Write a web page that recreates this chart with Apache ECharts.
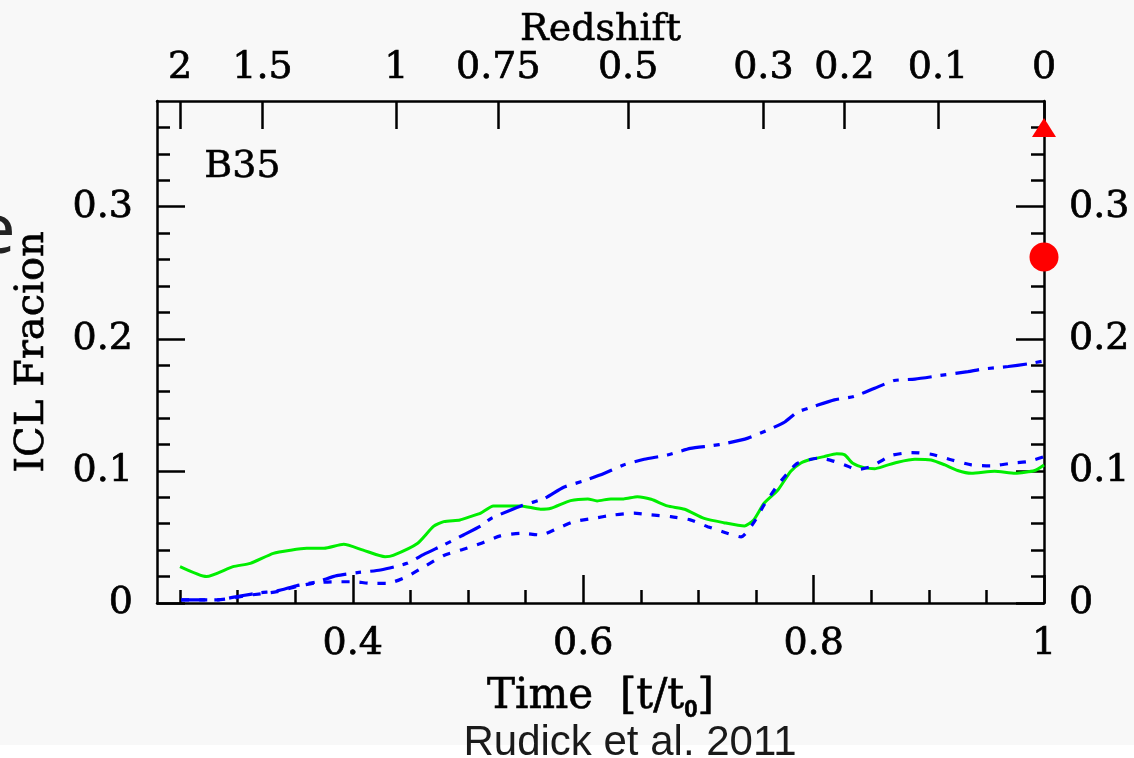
<!DOCTYPE html>
<html><head><meta charset="utf-8">
<script src="https://cdn.jsdelivr.net/npm/echarts@6/dist/echarts.min.js"></script>
<style>html,body{margin:0;padding:0;background:#f8f8f8}#c{width:1134px;height:758px}</style>
</head><body><div id="c"></div><script>
// ---- data ----
const xTickValues = [0.4, 0.6, 0.8, 1.0];
const xMinorValues = [0.25, 0.3, 0.35, 0.45, 0.5, 0.55, 0.65, 0.7, 0.75, 0.85, 0.9, 0.95];
const yTickValues = [0, 0.1, 0.2, 0.3];
const yMinorValues = [0.02, 0.04, 0.06, 0.08, 0.12, 0.14, 0.16, 0.18, 0.22, 0.24, 0.26, 0.28, 0.32, 0.34, 0.36];
const redshiftLabels = ['2', '1.5', '1', '0.75', '0.5', '0.3', '0.2', '0.1', '0'];
const redshiftTimes = [0.250, 0.3216, 0.4378, 0.5263, 0.639, 0.7564, 0.8268, 0.908, 1.0];

const greenSolid = [[0.250,0.0275],[0.273,0.020],[0.296,0.0275],[0.311,0.030],[0.331,0.0376],[0.346,0.040],[0.360,0.0414],[0.375,0.0414],[0.392,0.0444],[0.409,0.040],[0.428,0.035],[0.435,0.036],[0.456,0.045],[0.470,0.058],[0.479,0.0616],[0.493,0.0629],[0.502,0.0654],[0.511,0.068],[0.522,0.0735],[0.546,0.0735],[0.563,0.071],[0.572,0.0717],[0.589,0.0775],[0.604,0.0788],[0.612,0.0773],[0.624,0.0788],[0.635,0.0788],[0.647,0.0805],[0.659,0.0785],[0.673,0.0735],[0.688,0.071],[0.705,0.064],[0.722,0.0608],[0.740,0.0583],[0.748,0.0629],[0.757,0.0755],[0.769,0.0856],[0.780,0.0995],[0.789,0.106],[0.798,0.1088],[0.809,0.1108],[0.820,0.1129],[0.827,0.1121],[0.834,0.1058],[0.844,0.1025],[0.853,0.1017],[0.862,0.1038],[0.873,0.1066],[0.888,0.1088],[0.902,0.1083],[0.914,0.1045],[0.925,0.1003],[0.937,0.0982],[0.957,0.0998],[0.975,0.0982],[0.992,0.1003],[1.0,0.1045]];
const blueDashDot = [[0.251,0.0023],[0.282,0.0023],[0.302,0.0053],[0.320,0.0078],[0.334,0.0091],[0.351,0.0131],[0.369,0.0161],[0.386,0.0207],[0.404,0.023],[0.424,0.025],[0.447,0.030],[0.462,0.037],[0.479,0.044],[0.496,0.0515],[0.511,0.0583],[0.520,0.064],[0.546,0.0735],[0.566,0.079],[0.583,0.0876],[0.601,0.0926],[0.618,0.098],[0.635,0.1045],[0.653,0.1088],[0.673,0.112],[0.693,0.117],[0.711,0.119],[0.725,0.121],[0.743,0.1248],[0.763,0.132],[0.775,0.137],[0.786,0.1445],[0.801,0.149],[0.818,0.1538],[0.835,0.1563],[0.853,0.1626],[0.870,0.1684],[0.888,0.1695],[0.908,0.172],[0.934,0.1752],[0.946,0.177],[0.969,0.179],[0.986,0.181],[1.0,0.1833]];
const blueDotted = [[0.251,0.0023],[0.282,0.0023],[0.311,0.006],[0.334,0.0086],[0.351,0.0124],[0.369,0.0154],[0.386,0.0161],[0.401,0.0161],[0.415,0.0149],[0.430,0.0149],[0.447,0.020],[0.462,0.0275],[0.479,0.036],[0.496,0.0407],[0.511,0.045],[0.528,0.0508],[0.546,0.0528],[0.563,0.0515],[0.578,0.0566],[0.592,0.0616],[0.609,0.0641],[0.627,0.0667],[0.644,0.068],[0.659,0.0667],[0.676,0.0654],[0.693,0.0629],[0.708,0.0578],[0.725,0.0528],[0.737,0.050],[0.748,0.0608],[0.757,0.0742],[0.769,0.0894],[0.780,0.1008],[0.786,0.1058],[0.804,0.1096],[0.815,0.108],[0.827,0.1045],[0.838,0.101],[0.850,0.1033],[0.867,0.1116],[0.885,0.1139],[0.902,0.1126],[0.920,0.1083],[0.937,0.1045],[0.954,0.1038],[0.972,0.1058],[0.986,0.107],[1.0,0.1108]];
const observedCircle = [[1.0, 0.262]];
const observedTriangle = [[1.0, 0.36]];

// ---- chart ----
const SERIF = 'DejaVu Serif';
const FS = 38;
const lbl = {fontFamily: SERIF, fontSize: FS, color: '#000', textBorderColor: '#000', textBorderWidth: 0.7};
const axLine = {show: true, onZero: false, lineStyle: {color: '#000', width: 2.5}};
const noLine = {show: false, onZero: false};
const tickStyle = {color: '#000', width: 2.5};
const fmtNum = v => { const r = Math.round(v * 10) / 10; return r === 0 ? '0' : (r === 1 ? '1' : r.toFixed(1)); };
const fmtZ = v => { let b = 0; for (let i = 1; i < redshiftTimes.length; i++) if (Math.abs(redshiftTimes[i] - v) < Math.abs(redshiftTimes[b] - v)) b = i; return redshiftLabels[b]; };
const XMIN = 0.23, XMAX = 1.0, YMIN = 0, YMAX = 0.38;

const chart = echarts.init(document.getElementById('c'), null, {renderer: 'canvas'});
chart.setOption({
  backgroundColor: '#f8f8f8',
  animation: false,
  grid: {left: 157, top: 101, width: 887, height: 502, outerBoundsMode: 'none', containLabel: false},
  xAxis: [
    {type: 'value', position: 'bottom', min: XMIN, max: XMAX, axisLine: axLine, splitLine: {show: false},
     axisTick: {show: true, inside: true, length: 28, lineStyle: tickStyle, customValues: xTickValues},
     axisLabel: Object.assign({customValues: xTickValues, margin: 22, formatter: fmtNum}, lbl),
     name: 'Time  [t/t{sub|0}]', nameLocation: 'middle', nameGap: 70, nameMoveOverlap: false,
     nameTextStyle: {fontFamily: SERIF, fontSize: 42, color: '#000', textBorderColor: '#000', textBorderWidth: 0.6,
       rich: {sub: {fontFamily: 'Liberation Sans', fontWeight: 'bold', fontSize: 24, color: '#000', padding: [25, 0, 0, 0]}}}},
    {type: 'value', position: 'bottom', min: XMIN, max: XMAX, axisLine: noLine, splitLine: {show: false},
     axisTick: {show: true, inside: true, length: 13, lineStyle: tickStyle, customValues: xMinorValues},
     axisLabel: {show: false}},
    {type: 'value', position: 'top', min: XMIN, max: XMAX, axisLine: axLine, splitLine: {show: false},
     axisTick: {show: true, inside: true, length: 28, lineStyle: tickStyle, customValues: redshiftTimes},
     axisLabel: Object.assign({customValues: redshiftTimes, margin: 14, formatter: fmtZ}, lbl),
     name: 'Redshift', nameLocation: 'middle', nameGap: 52, nameMoveOverlap: false,
     nameTextStyle: {fontFamily: SERIF, fontSize: FS, color: '#000', textBorderColor: '#000', textBorderWidth: 0.6}}
  ],
  yAxis: [
    {type: 'value', position: 'left', min: YMIN, max: YMAX, axisLine: axLine, splitLine: {show: false},
     axisTick: {show: true, inside: true, length: 28, lineStyle: tickStyle, customValues: yTickValues},
     axisLabel: Object.assign({customValues: yTickValues, margin: 24, formatter: fmtNum}, lbl),
     name: 'ICL Fracion', nameLocation: 'middle', nameRotate: 90, nameGap: 104, nameMoveOverlap: false,
     nameTextStyle: {fontFamily: SERIF, fontSize: 40, color: '#000', textBorderColor: '#000', textBorderWidth: 0.6}},
    {type: 'value', position: 'left', min: YMIN, max: YMAX, axisLine: noLine, splitLine: {show: false},
     axisTick: {show: true, inside: true, length: 13, lineStyle: tickStyle, customValues: yMinorValues},
     axisLabel: {show: false}},
    {type: 'value', position: 'right', min: YMIN, max: YMAX, axisLine: axLine, splitLine: {show: false},
     axisTick: {show: true, inside: true, length: 28, lineStyle: tickStyle, customValues: yTickValues},
     axisLabel: Object.assign({customValues: yTickValues, margin: 25, formatter: fmtNum}, lbl)},
    {type: 'value', position: 'right', min: YMIN, max: YMAX, axisLine: noLine, splitLine: {show: false},
     axisTick: {show: true, inside: true, length: 13, lineStyle: tickStyle, customValues: yMinorValues},
     axisLabel: {show: false}}
  ],
  series: [
    {type: 'line', name: 'green', data: greenSolid, xAxisIndex: 0, yAxisIndex: 0, symbol: 'none', smooth: 0.2, z: 2,
     lineStyle: {color: '#00ee00', width: 3}},
    {type: 'line', name: 'dashdot', data: blueDashDot, xAxisIndex: 0, yAxisIndex: 0, symbol: 'none', smooth: 0.2, z: 3,
     lineStyle: {color: '#0000ff', width: 3.2, type: [24, 9, 6, 9]}},
    {type: 'line', name: 'dotted', data: blueDotted, xAxisIndex: 0, yAxisIndex: 0, symbol: 'none', smooth: 0.2, z: 3,
     lineStyle: {color: '#0000ff', width: 3.2, type: [8, 10]}},
    {type: 'scatter', data: observedCircle, xAxisIndex: 0, yAxisIndex: 0, symbol: 'circle', symbolSize: 29, clip: false, z: 5,
     itemStyle: {color: '#ff0000', opacity: 1}},
    {type: 'scatter', data: observedTriangle, xAxisIndex: 0, yAxisIndex: 0, symbol: 'triangle', symbolSize: [24, 19], clip: false, z: 5,
     itemStyle: {color: '#ff0000', opacity: 1}}
  ],
  graphic: [
    {type: 'rect', left: 0, top: 745, shape: {width: 1134, height: 13}, style: {fill: '#ffffff'}, z: -10},
    {type: 'text', left: 204, top: 148, style: {text: 'B35', fontFamily: SERIF, fontSize: FS, fill: '#000', stroke: '#000', lineWidth: 0.6}},
    {type: 'text', x: 630, y: 743, style: {text: 'Rudick et al. 2011', fontFamily: 'Liberation Sans', fontSize: 42, fill: '#1a1a1a', align: 'center', verticalAlign: 'middle'}},
    {type: 'text', x: -24, y: 233, style: {text: 'e', fontFamily: 'Noto Sans', fontSize: 70, fill: '#222', verticalAlign: 'middle'}}
  ]
});
</script></body></html>
